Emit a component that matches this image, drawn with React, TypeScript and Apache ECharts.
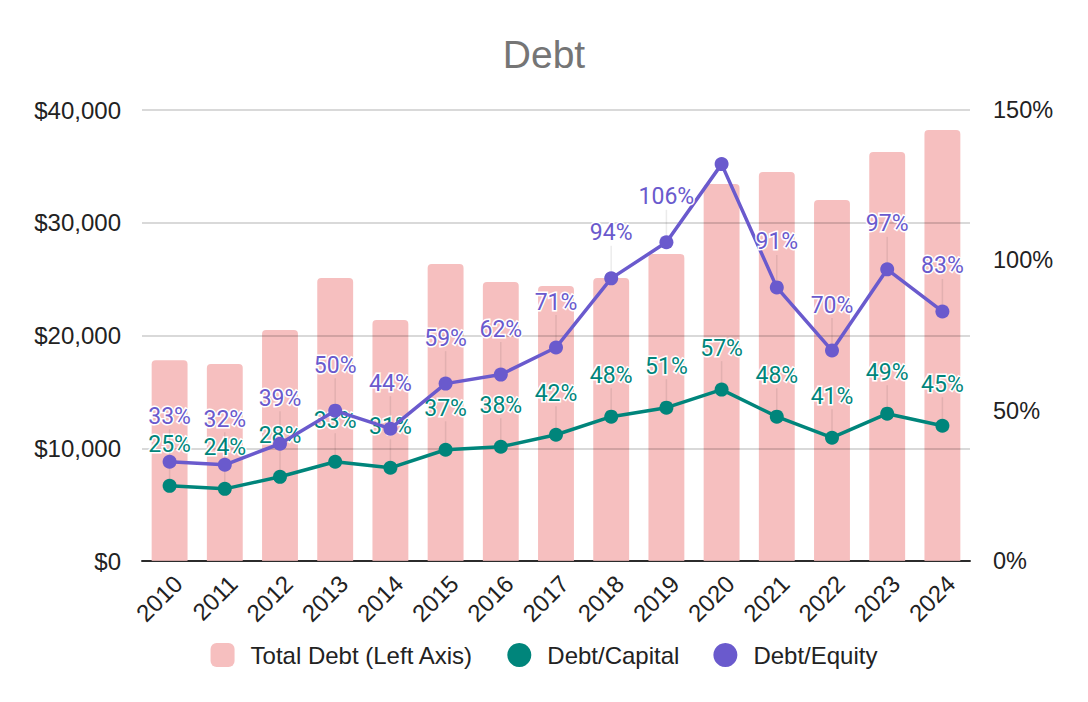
import { useEffect, useRef } from "react"
import * as echarts from "echarts"

const years = ["2010", "2011", "2012", "2013", "2014", "2015", "2016", "2017", "2018", "2019", "2020", "2021", "2022", "2023", "2024"]
const totalDebt = [17800, 17470, 20490, 25100, 21370, 26340, 24750, 24390, 25100, 27230, 33440, 34500, 32020, 36270, 38230]
const debtCapital = [25, 24, 28, 33, 31, 37, 38, 42, 48, 51, 57, 48, 41, 49, 45]
const debtEquity = [33, 32, 39, 50, 44, 59, 62, 71, 94, 106, 132, 91, 70, 97, 83]
const hiddenEquityLabels = ["2020"]

const axisFont = "'Liberation Sans', Arial, sans-serif"
const labelFont = "Roboto, 'Liberation Sans', sans-serif"

export default function App() {
  const chartRef = useRef<HTMLDivElement>(null)

  useEffect(() => {
    if (!chartRef.current) return
    const chart = echarts.init(chartRef.current, null, { renderer: "svg" })

    const pctLabel = (color: string) => ({
      show: true,
      position: "top" as const,
      distance: 4,
      formatter: "{c}%",
      color,
      fontSize: 23,
      lineHeight: 23,
      fontFamily: labelFont,
      textBorderColor: "#fff",
      textBorderWidth: 3,
    })
    const guide = { show: true, lineStyle: { color: "rgba(0,0,0,0.08)", width: 1.5 } }

    const option: echarts.EChartsOption = {
      animation: false,
      title: {
        text: "Debt",
        left: "center",
        top: 30,
        textStyle: { fontSize: 39, fontWeight: "normal", color: "#757575", fontFamily: axisFont },
      },
      legend: {
        top: 638,
        left: "center",
        itemWidth: 24,
        itemHeight: 24,
        itemGap: 34,
        textStyle: { fontSize: 24, color: "#222", fontFamily: axisFont, padding: [0, 0, 0, 11] },
        data: [
          { name: "Total Debt (Left Axis)", icon: "roundRect" },
          { name: "Debt/Capital", icon: "circle" },
          { name: "Debt/Equity", icon: "circle" },
        ],
      },
      grid: { left: 142, right: 118, top: 110, bottom: 141 },
      xAxis: {
        type: "category",
        data: years,
        axisTick: { show: false },
        axisLine: { lineStyle: { color: "#333", width: 2 } },
        axisLabel: {
          rotate: 45,
          fontSize: 24,
          color: "#222",
          fontFamily: axisFont,
          margin: 10,
          verticalAlign: "top",
        },
      },
      yAxis: [
        {
          type: "value",
          min: 0,
          max: 40000,
          interval: 10000,
          z: 3,
          axisLine: { show: false },
          axisTick: { show: false },
          splitLine: { lineStyle: { color: "rgba(0,0,0,0.2)", width: 1.5 } },
          axisLabel: {
            fontSize: 24,
            color: "#222",
            fontFamily: axisFont,
            margin: 21,
            formatter: (v: number) => "$" + v.toLocaleString("en-US"),
          },
        },
        {
          type: "value",
          min: 0,
          max: 150,
          interval: 50,
          axisLine: { show: false },
          axisTick: { show: false },
          splitLine: { show: false },
          axisLabel: { fontSize: 23.5, color: "#222", fontFamily: axisFont, margin: 23, formatter: "{value}%" },
        },
      ],
      series: [
        {
          name: "Total Debt (Left Axis)",
          type: "bar",
          data: totalDebt,
          barWidth: "65%",
          itemStyle: { color: "#f6bfbf", borderRadius: [4, 4, 0, 0] },
          z: 2,
        },
        {
          name: "Debt/Capital",
          type: "line",
          yAxisIndex: 1,
          data: debtCapital,
          symbol: "circle",
          symbolSize: 14,
          lineStyle: { width: 3.5, color: "#00857b" },
          itemStyle: { color: "#00857b" },
          label: pctLabel("#00857b"),
          labelLayout: { dy: -19 },
          labelLine: guide,
          z: 5,
        },
        {
          name: "Debt/Equity",
          type: "line",
          yAxisIndex: 1,
          data: debtEquity.map((v, i) =>
            hiddenEquityLabels.includes(years[i])
              ? { value: v, label: { show: false }, labelLine: { show: false } }
              : v
          ),
          symbol: "circle",
          symbolSize: 14,
          lineStyle: { width: 3.5, color: "#6a5acd" },
          itemStyle: { color: "#6a5acd" },
          label: pctLabel("#6a5acd"),
          labelLayout: { dy: -23 },
          labelLine: guide,
          z: 6,
        },
      ],
    }

    chart.setOption(option)
    return () => chart.dispose()
  }, [])

  return (
    <div style={{ position: "fixed", left: 0, top: 0, width: 1088, height: 702, background: "#fff" }}>
      <div ref={chartRef} style={{ width: 1088, height: 702 }} />
    </div>
  )
}
